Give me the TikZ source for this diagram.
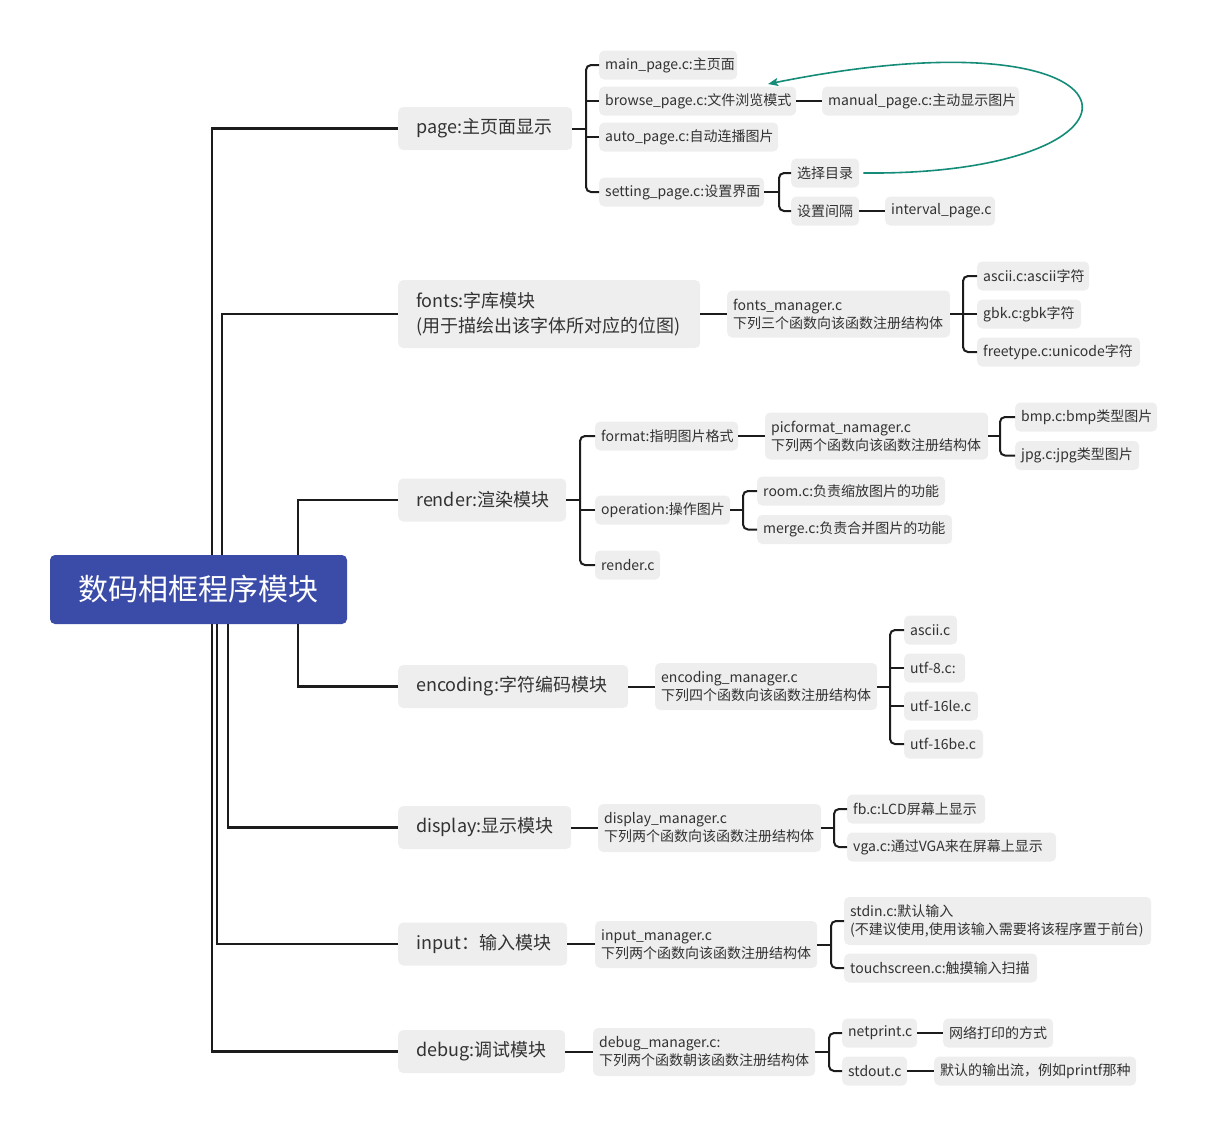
\documentclass[tikz,border=0pt]{standalone}
\usepackage{fontspec}
\setmainfont{Noto Sans CJK SC}
\usetikzlibrary{arrows.meta}
\definecolor{boxgray}{RGB}{238,238,238}
\definecolor{rootblue}{RGB}{58,75,168}
\definecolor{linec}{RGB}{28,28,28}
\definecolor{txt}{RGB}{50,50,50}
\definecolor{arrowc}{RGB}{20,140,120}
\tikzset{
  rootbox/.style={fill=rootblue, rounded corners=5pt, text=white, inner sep=0pt, minimum width=297pt, minimum height=69pt, font=\fontsize{30}{36}\selectfont},
  lone/.style={fill=boxgray, rounded corners=5pt, anchor=west, inner xsep=18pt, inner ysep=0pt, minimum height=43pt, font=\fontsize{18}{25}\selectfont, text=txt, align=left},
  ltwo/.style={fill=boxgray, rounded corners=5pt, anchor=west, inner xsep=6pt, inner ysep=0pt, minimum height=29pt, font=\fontsize{14}{18}\selectfont, text=txt, align=left},
  conn/.style={draw=linec, line width=2pt},
  rootconn/.style={draw=linec, line width=2.5pt},
  brk/.style={draw=linec, line width=2pt, rounded corners=5pt},
}
\begin{document}
\begin{tikzpicture}[x=1pt, y=-1pt]
\useasboundingbox (0,0) rectangle (1205,1136);
% root
\node[rootbox] (root) at (198.5,589.5) {数码相框程序模块};
% level 1
\node[lone, text width=138pt] (page) at (398,128.5) {page:主页面显示};
\node[lone, text width=266pt, minimum height=68pt] (fonts) at (398,314) {fonts:字库模块\\(用于描绘出该字体所对应的位图)};
\node[lone, text width=132pt] (render) at (398,500) {render:渲染模块};
\node[lone, text width=194pt] (encoding) at (398,686.5) {encoding:字符编码模块};
\node[lone, text width=137pt] (display) at (398,827.5) {display:显示模块};
\node[lone, text width=133pt] (input) at (398,944) {input：输入模块};
\node[lone, text width=131pt] (debug) at (398,1051.5) {debug:调试模块};
% page children
\node[ltwo, text width=126pt] (mainp) at (599,65) {main\_page.c:主页面};
\node[ltwo, text width=185pt] (browse) at (599,101) {browse\_page.c:文件浏览模式};
\node[ltwo, text width=167pt] (autop) at (599,137) {auto\_page.c:自动连播图片};
\node[ltwo, text width=153pt] (setting) at (599,192) {setting\_page.c:设置界面};
\node[ltwo, text width=185pt] (manual) at (822,101) {manual\_page.c:主动显示图片};
\node[ltwo, text width=56pt] (seldir) at (791,173) {选择目录};
\node[ltwo, text width=56pt] (setgap) at (791,211) {设置间隔};
\node[ltwo, text width=98pt] (interval) at (885,211) {interval\_page.c};
% fonts children
\node[ltwo, text width=211pt, minimum height=47pt] (fm) at (727,314) {fonts\_manager.c\\下列三个函数向该函数注册结构体};
\node[ltwo, text width=100pt] (fascii) at (977,276) {ascii.c:ascii字符};
\node[ltwo, text width=92pt] (fgbk) at (977,314) {gbk.c:gbk字符};
\node[ltwo, text width=151pt] (ffree) at (977,352) {freetype.c:unicode字符};
% render children
\node[ltwo, text width=131pt] (format) at (595,436) {format:指明图片格式};
\node[ltwo, text width=211pt, minimum height=47pt] (picf) at (765,436) {picformat\_namager.c\\下列两个函数向该函数注册结构体};
\node[ltwo, text width=130pt] (bmp) at (1015,417) {bmp.c:bmp类型图片};
\node[ltwo, text width=112pt] (jpg) at (1015,455.5) {jpg.c:jpg类型图片};
\node[ltwo, text width=123pt] (oper) at (595,510) {operation:操作图片};
\node[ltwo, text width=176pt] (room) at (757,491) {room.c:负责缩放图片的功能};
\node[ltwo, text width=183pt] (merge) at (757,529.5) {merge.c:负责合并图片的功能};
\node[ltwo, text width=53pt] (renderc) at (595,565) {render.c};
% encoding children
\node[ltwo, text width=210pt, minimum height=47pt] (em) at (655,686.5) {encoding\_manager.c\\下列四个函数向该函数注册结构体};
\node[ltwo, text width=41pt] (eascii) at (904,630) {ascii.c};
\node[ltwo, text width=49pt] (eutf8) at (904,668) {utf-8.c:};
\node[ltwo, text width=62pt] (eutfle) at (904,706) {utf-16le.c};
\node[ltwo, text width=67pt] (eutfbe) at (904,744) {utf-16be.c};
% display children
\node[ltwo, text width=211pt, minimum height=48pt] (dm) at (598,828) {display\_manager.c\\下列两个函数向该函数注册结构体};
\node[ltwo, text width=126pt] (fb) at (847,809) {fb.c:LCD屏幕上显示};
\node[ltwo, text width=197pt] (vga) at (847,847) {vga.c:通过VGA来在屏幕上显示};
% input children
\node[ltwo, text width=210pt, minimum height=47pt] (im) at (595,944.5) {input\_manager.c\\下列两个函数向该函数注册结构体};
\node[ltwo, text width=295pt, minimum height=48pt] (stdin) at (844,921) {stdin.c:默认输入\\(不建议使用,使用该输入需要将该程序置于前台)};
\node[ltwo, text width=181pt] (touch) at (844,968) {touchscreen.c:触摸输入扫描};
% debug children
\node[ltwo, text width=210pt, minimum height=48pt] (dbm) at (593,1052) {debug\_manager.c:\\下列两个函数朝该函数注册结构体};
\node[ltwo, text width=63pt] (netp) at (842,1033) {netprint.c};
\node[ltwo, text width=98pt] (netd) at (943,1033) {网络打印的方式};
\node[ltwo, text width=53pt] (stdo) at (842,1071) {stdout.c};
\node[ltwo, text width=190pt] (stdod) at (934,1071) {默认的输出流，例如printf那种};
% coordinates
\coordinate (xpage) at (212,0);
\coordinate (xfonts) at (222,0);
\coordinate (xrender) at (298,0);
\coordinate (xdisplay) at (228,0);
\coordinate (xinput) at (217,0);
\coordinate (bpage) at (586,0);
\coordinate (bset) at (779,0);
\coordinate (bfonts) at (963,0);
\coordinate (brender) at (580,0);
\coordinate (bpicf) at (1000,0);
\coordinate (boper) at (743,0);
\coordinate (benc) at (890,0);
\coordinate (bdisp) at (834,0);
\coordinate (binput) at (831,0);
\coordinate (bdebug) at (829,0);
\coordinate (arrtip) at (768,84);
% root connectors
\draw[rootconn] (page.west) -- (page.west -| xpage) -- (xpage |- root.north);
\draw[rootconn] (fonts.west) -- (fonts.west -| xfonts) -- (xfonts |- root.north);
\draw[rootconn] (render.west) -- (render.west -| xrender) -- (xrender |- root.north);
\draw[rootconn] (encoding.west) -- (encoding.west -| xrender) -- (xrender |- root.south);
\draw[rootconn] (display.west) -- (display.west -| xdisplay) -- (xdisplay |- root.south);
\draw[rootconn] (input.west) -- (input.west -| xinput) -- (xinput |- root.south);
\draw[rootconn] (debug.west) -- (debug.west -| xpage) -- (xpage |- root.south);
% page
\draw[conn] (page.east) -- (page.east -| bpage);
\draw[brk] (mainp.west) -- (mainp.west -| bpage) -- (setting.west -| bpage) -- (setting.west);
\draw[conn] (browse.west) -- (browse.west -| bpage);
\draw[conn] (autop.west) -- (autop.west -| bpage);
\draw[conn] (browse) -- (manual);
\draw[conn] (setting.east) -- (setting.east -| bset);
\draw[brk] (seldir.west) -- (seldir.west -| bset) -- (setgap.west -| bset) -- (setgap.west);
\draw[conn] (setgap) -- (interval);
\draw[arrowc, line width=1.6pt, -{Stealth[length=10pt, width=8pt, inset=2pt]}] ([xshift=4pt]seldir.east) .. controls (1176,176) and (1160,5) .. (arrtip);
% fonts
\draw[conn] (fonts) -- (fm);
\draw[conn] (fm.east) -- (fm.east -| bfonts);
\draw[brk] (fascii.west) -- (fascii.west -| bfonts) -- (ffree.west -| bfonts) -- (ffree.west);
\draw[conn] (fgbk.west) -- (fgbk.west -| bfonts);
% render
\draw[conn] (render.east) -- (render.east -| brender);
\draw[brk] (format.west) -- (format.west -| brender) -- (renderc.west -| brender) -- (renderc.west);
\draw[conn] (oper.west) -- (oper.west -| brender);
\draw[conn] (format) -- (picf);
\draw[conn] (picf.east) -- (picf.east -| bpicf);
\draw[brk] (bmp.west) -- (bmp.west -| bpicf) -- (jpg.west -| bpicf) -- (jpg.west);
\draw[conn] (oper.east) -- (oper.east -| boper);
\draw[brk] (room.west) -- (room.west -| boper) -- (merge.west -| boper) -- (merge.west);
% encoding
\draw[conn] (encoding) -- (em);
\draw[conn] (em.east) -- (em.east -| benc);
\draw[brk] (eascii.west) -- (eascii.west -| benc) -- (eutfbe.west -| benc) -- (eutfbe.west);
\draw[conn] (eutf8.west) -- (eutf8.west -| benc);
\draw[conn] (eutfle.west) -- (eutfle.west -| benc);
% display
\draw[conn] (display.east) -- (display.east -| dm.west);
\draw[conn] (dm.east) -- (dm.east -| bdisp);
\draw[brk] (fb.west) -- (fb.west -| bdisp) -- (vga.west -| bdisp) -- (vga.west);
% input
\draw[conn] (input.east) -- (input.east -| im.west);
\draw[conn] (im.east) -- (im.east -| binput);
\draw[brk] (stdin.west) -- (stdin.west -| binput) -- (touch.west -| binput) -- (touch.west);
% debug
\draw[conn] (debug.east) -- (debug.east -| dbm.west);
\draw[conn] (dbm.east) -- (dbm.east -| bdebug);
\draw[brk] (netp.west) -- (netp.west -| bdebug) -- (stdo.west -| bdebug) -- (stdo.west);
\draw[conn] (netp) -- (netd);
\draw[conn] (stdo) -- (stdod);
\end{tikzpicture}
\end{document}
